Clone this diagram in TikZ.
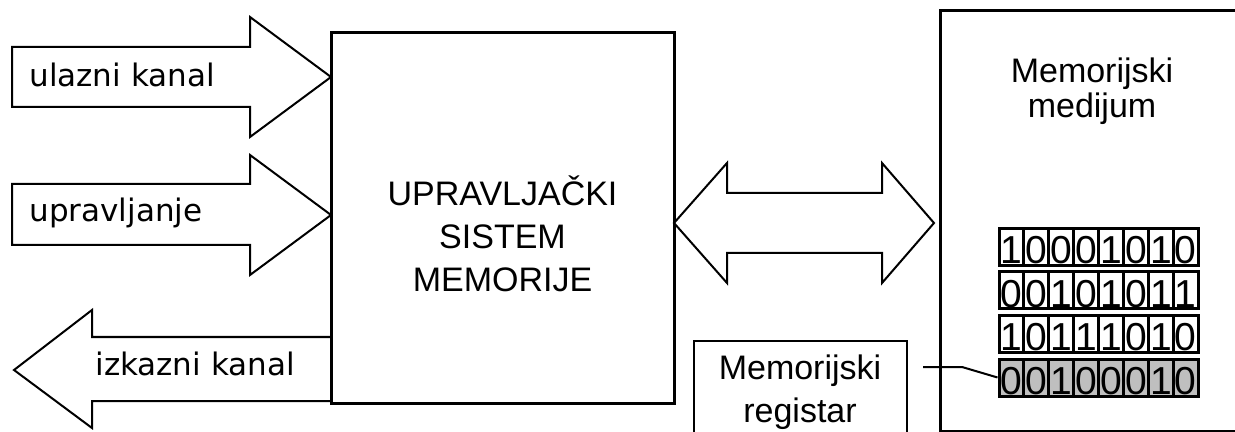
\documentclass[tikz,border=0pt]{standalone}
\usepackage{fontspec}
\setmainfont{Liberation Sans}
\newfontfamily\natpisfont{DejaVu Sans}
\begin{document}
\begin{tikzpicture}[x=0.5pt, y=-0.5pt,
        kutija/.style={draw, line width=1.5pt, inner sep=0},
        blok/.style={draw, line width=1pt, fill=white},
        natpis/.style={font=\natpisfont\fontsize{15.5}{18}\selectfont, anchor=base west, inner sep=0},
        tekst/.style={font=\fontsize{17}{21.5}\selectfont, align=center, anchor=base, inner sep=0},
        bit/.style={draw, line width=1.5pt, minimum width=12.45pt, minimum height=18.5pt, inner sep=0,
            text height=17.5pt, text depth=1pt, font=\fontsize{19.5}{20}\selectfont}]
        \useasboundingbox (0,0) rectangle (1235,432);
        \clip (0,0) rectangle (1235,432);
        \node[kutija, minimum width=171.5pt, minimum height=185pt] (sys) at (502.5,218) {};
        \node[tekst] (systekst) at (502.5,292) {UPRAVLJAČKI\\SISTEM\\MEMORIJE};
        \node[kutija, anchor=north west, minimum width=153pt, minimum height=210.5pt] (medij) at (939,9) {};
        \node[tekst, font=\fontsize{17}{17.5}\selectfont] (medijtekst) at (1092,118) {Memorijski\\medijum};
        \node[kutija, line width=1pt, anchor=north west, minimum width=106.5pt, minimum height=60pt] (reg) at (693,340) {};
        \node[tekst, font=\fontsize{17}{21}\selectfont] (regtekst) at (800,422) {Memorijski\\registar};
        \draw[blok] (12,47) -- (250,47) -- (250,17) -- (331,77) -- (250,137) -- (250,107) -- (12,107) -- cycle;
        \draw[blok] (12,184) -- (250,184) -- (250,155) -- (331,215) -- (250,275) -- (250,245) -- (12,245) -- cycle;
        \draw[blok] (331,337) -- (92,337) -- (92,310) -- (14,370) -- (92,428) -- (92,401) -- (331,401) -- cycle;
        \draw[blok] (674,223) -- (727,163) -- (727,193) -- (882,193) -- (882,163) -- (934,223)
            -- (882,283) -- (882,253) -- (727,253) -- (727,283) -- cycle;
        \node[natpis] (ulaz) at (29,87) {ulazni kanal};
        \node[natpis] (uprav) at (29,222) {upravljanje};
        \node[natpis] (izlaz) at (95,375) {izkazni kanal};
        \foreach \red [count=\r] in {{1,0,0,0,1,0,1,0},{0,0,1,0,1,0,1,1},{1,0,1,1,1,0,1,0}}
            \foreach \b [count=\c] in \red
                \node[bit, fill=white] (b\r\c) at ({999+12.45+(\c-1)*24.9}, {247+(\r-1)*43.5}) {\b};
        \foreach \b [count=\c] in {0,0,1,0,0,0,1,0}
            \node[bit, fill=gray!50] (b4\c) at ({999+12.45+(\c-1)*24.9}, {247+3*43.5}) {\b};
        \coordinate (regizlaz) at (923,367);
        \draw[line width=1pt] (regizlaz) -- ++(39,0) -- (b41.west);
    \end{tikzpicture}
\end{document}
